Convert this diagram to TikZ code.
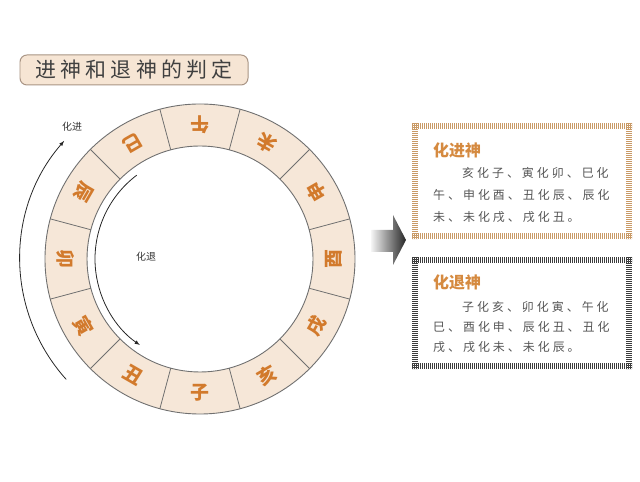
\documentclass[tikz,border=0pt]{standalone}
\usepackage{fontspec}
\setmainfont{Noto Sans CJK SC}
\newfontfamily\titlefont[LetterSpace=20]{Noto Sans CJK SC}
\newfontfamily\bodyfont[LetterSpace=25]{Noto Sans CJK SC}
\usepackage{tikz}
\usetikzlibrary{positioning}
\definecolor{ringfill}{HTML}{F6E7D8}
\definecolor{ringline}{HTML}{707070}
\definecolor{zhicolor}{HTML}{D27A2C}
\definecolor{headcolor}{HTML}{D58A40}
\definecolor{jincolor}{HTML}{C99A66}
\definecolor{tuicolor}{HTML}{3C3C3C}
\definecolor{bodycolor}{HTML}{555555}
\definecolor{titlefill}{HTML}{F6E5D4}
\definecolor{titleline}{HTML}{A89484}

\begin{document}
\begin{tikzpicture}[x=1bp,y=1bp,
    titlebox/.style={draw=titleline,fill=titlefill,line width=1pt,rounded corners=7pt,
      minimum width=228bp,minimum height=30bp,inner sep=0pt,text=black!75,font=\titlefont\fontsize{21}{21}\selectfont},
    zhi/.style={text=zhicolor,font=\bfseries\fontsize{19}{19}\selectfont,inner sep=0pt},
    turn/.style={-latex,line width=0.8pt,black!85},
    turnlabel/.style={font=\fontsize{10}{10}\selectfont,text=black!80,inner sep=1pt},
    framebox/.style={minimum width=214bp,minimum height=#1,inner sep=0pt,outer sep=0pt},
    hatch/.style={line width=6bp,dash pattern=on 1bp off 1bp,shorten <=-3bp,shorten >=-3bp},
    boxtitle/.style={anchor=west,text=headcolor,font=\bfseries\fontsize{16}{16}\selectfont,inner sep=0pt},
    boxline/.style={anchor=west,text=bodycolor,font=\bodyfont\fontsize{12}{12}\selectfont,inner sep=0pt}]
\useasboundingbox (0,0) rectangle (640,482);

\node[titlebox] (title) at (134,412) {进神和退神的判定}; % 标题

% 十二地支圆环
\coordinate (O) at (200,223);
\fill[ringfill,even odd rule] (O) circle[radius=155] (O) circle[radius=113];
\foreach \a in {15,45,...,345}
    \draw[ringline,line width=0.8pt] ([shift={(\a:113)}]O) -- ([shift={(\a:155)}]O);
\draw[ringline,line width=0.9pt] (O) circle[radius=155] (O) circle[radius=113];
\foreach \z/\a/\n in {子/270/zi,丑/240/chou,寅/210/yin,卯/180/mao,辰/150/chen,巳/120/si,
                      午/90/wu,未/60/wei,申/30/shen,酉/0/you,戌/-30/xu,亥/-60/hai}
    \node[zhi,rotate=\a+90] (\n) at ([shift={(\a:134)}]O) {\z};

% 化进、化退的方向
\draw[turn] ([shift={(222:180)}]O) arc[start angle=222,end angle=139,radius=180];
\node[turnlabel] (jinlabel) at (72,355) {化进};
\draw[turn] ([shift={(127:105)}]O) arc[start angle=127,end angle=235,radius=105];
\node[turnlabel] (tuilabel) at (146,225) {化退};

% 大箭头
\shade[left color=black!4,right color=black!85]
    (371,252) -- (393,252) -- (393,267) -- (406,242) -- (393,217) -- (393,230) -- (371,230) -- cycle;

% 化进神
\node[framebox=110bp] (jinbox) at (522,301) {};
\foreach \p/\q in {north west/north east,south west/south east,north west/south west,north east/south east}
    \draw[hatch,jincolor] (jinbox.\p) -- (jinbox.\q);
\node[boxtitle] (jintitle) at (433,332) {化进神};
\node[boxline] (jin1) at (462,309) {亥化子、寅化卯、巳化};
\node[boxline] (jin2) at (433,287) {午、申化酉、丑化辰、辰化};
\node[boxline] (jin3) at (433,265) {未、未化戌、戌化丑。};

% 化退神
\node[framebox=106bp] (tuibox) at (522,169) {};
\foreach \p/\q in {north west/north east,south west/south east,north west/south west,north east/south east}
    \draw[hatch,tuicolor] (tuibox.\p) -- (tuibox.\q);
\node[boxtitle] (tuititle) at (433,200) {化退神};
\node[boxline] (tui1) at (462,175) {子化亥、卯化寅、午化};
\node[boxline] (tui2) at (433,155) {巳、酉化申、辰化丑、丑化};
\node[boxline] (tui3) at (433,135) {戌、戌化未、未化辰。};
\end{tikzpicture}
\end{document}
